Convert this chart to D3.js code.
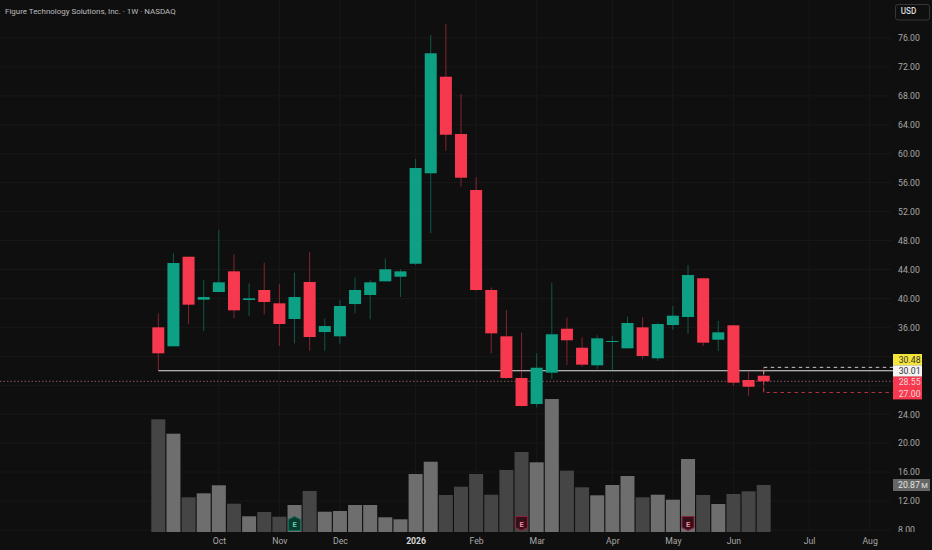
<!DOCTYPE html>
<html>
<head>
<meta charset="utf-8">
<script src="https://d3js.org/d3.v7.min.js"></script>
<style>
  html, body { margin: 0; padding: 0; background: #0f0f0f; }
  svg { display: block; }
  text { font-family: Roboto, sans-serif; }
</style>
</head>
<body>
<svg id="chart"></svg>

<script>
  var weeks = ["2025-09-08","2025-09-15","2025-09-22","2025-09-29","2025-10-06","2025-10-13","2025-10-20","2025-10-27",
    "2025-11-03","2025-11-10","2025-11-17","2025-11-24","2025-12-01","2025-12-08","2025-12-15","2025-12-22","2025-12-29",
    "2026-01-05","2026-01-12","2026-01-19","2026-01-26","2026-02-02","2026-02-09","2026-02-16","2026-02-23",
    "2026-03-02","2026-03-09","2026-03-16","2026-03-23","2026-03-30","2026-04-06","2026-04-13","2026-04-20","2026-04-27",
    "2026-05-04","2026-05-11","2026-05-18","2026-05-25","2026-06-01","2026-06-08","2026-06-15"];

  var opens = [36.01,33.39,45.77,39.83,40.89,43.75,39.79,41.17,39.33,37.16,42.28,35.36,34.77,39.23,40.48,42.37,43.01,
    44.80,57.30,70.65,62.73,54.99,41.17,34.77,29.01,25.41,29.74,35.82,33.19,30.76,33.98,33.11,36.01,31.73,
    36.33,37.44,42.79,34.30,36.29,28.73,29.32];
  var highs = [37.95,46.24,45.77,42.51,49.46,46.10,42.10,44.94,41.96,43.56,46.38,37.20,39.79,42.87,42.55,45.55,44.03,
    59.28,76.41,77.94,68.26,56.75,41.54,38.40,35.27,32.42,42.18,37.34,34.63,34.91,34.81,37.48,37.40,36.65,
    38.96,44.62,42.85,36.88,36.35,29.88,30.48];
  var lows = [30.01,33.39,36.47,35.50,40.89,37.26,37.58,37.81,33.43,33.80,32.78,32.78,33.75,37.95,37.12,42.37,40.20,
    44.62,49.01,60.42,55.45,41.00,32.42,28.90,25.04,24.96,28.83,30.80,30.57,30.29,29.88,33.11,31.59,31.36,
    35.64,35.09,33.43,32.74,27.94,26.52,27.00];
  var closes = [32.42,44.90,39.14,40.20,42.23,38.36,40.02,39.51,36.47,40.20,34.67,36.19,38.96,41.17,42.23,44.03,43.75,
    58.03,73.89,62.63,56.69,41.17,35.18,29.01,25.14,30.43,35.05,34.22,30.85,34.49,34.12,36.61,32.05,36.47,
    37.62,43.24,33.89,35.32,28.36,27.80,28.55];
  var volumes = [50.04,43.65,15.41,17.18,20.74,12.57,6.97,8.88,6.79,11.99,18.2,9.01,9.32,11.99,11.99,6.53,5.64,
    25.75,31.21,16.43,20.11,25.75,16.56,27.53,35.52,30.95,59.05,27.22,19.85,16.29,20.87,24.86,15.41,16.56,
    14.34,32.41,16.43,12.43,16.87,18.07,20.87];

  var priceTicks = [76,72,68,64,60,56,52,48,44,40,36,24,20,16,12,8];
  var gridTicks = [76,72,68,64,60,56,52,48,44,40,36,32,28,24,20,16,12,8];
  var monthTicks = ["2025-10-06","2025-11-03","2025-12-01","2026-01-05","2026-02-02","2026-03-02","2026-04-06","2026-05-04","2026-06-01","2026-07-06","2026-08-03"];
  var monthLabels = ["Oct","Nov","Dec","2026","Feb","Mar","Apr","May","Jun","Jul","Aug"];

  var earningsWeeks = ["2025-11-10","2026-02-23","2026-05-11"];
  var earningsBeat = [true,false,false];

  var title = "Figure Technology Solutions, Inc. · 1W · NASDAQ";
  var sessionHigh = 30.48, sessionLow = 27.00, lastPrice = 28.55, linePrice = 30.01, lastVolume = "20.87";

  var windowWidth = 932;
  var windowHeight = 550;
  var plotRight = 885;
  var axisLeft = 893;
  var axisRight = 922;
  var timeTop = 532;
  var candleWidth = 12;
  var volumeWidth = 14;
  var labelSize = 8.7;

  var upColor = "#0ea084";
  var downColor = "#f7394f";
  var bgColor = "#0f0f0f";
  var gridColor = "#181818";
  var textColor = "#a9a9a9";

  var parseDate = d3.utcParse("%Y-%m-%d");
  var dates = weeks.map(parseDate);

  var xscale = d3.scaleUtc()
    .domain([dates[0], dates[dates.length - 1]])
    .range([158.3, 763.7]);

  var yscale = d3.scaleLinear()
    .domain([76, 8])
    .range([38, 530]);

  var volScale = d3.scaleLinear()
    .domain([0, 20.87])
    .range([532, 485]);

  var candles = weeks.map(function(w, i) {
    return { date: dates[i], open: opens[i], high: highs[i], low: lows[i], close: closes[i], volume: volumes[i] };
  });

  function candleColor(d) { return d.close >= d.open ? upColor : downColor; }

  var svg = d3.select("#chart")
    .attr("width", windowWidth)
    .attr("height", windowHeight);

  svg.append("rect")
    .attr("width", windowWidth).attr("height", windowHeight)
    .attr("fill", bgColor);

  //grid
  svg.append("g").selectAll("line")
    .data(gridTicks)
    .enter().append("line")
    .attr("x1", 0).attr("x2", plotRight + 6)
    .attr("y1", function(d) { return yscale(d); })
    .attr("y2", function(d) { return yscale(d); })
    .attr("stroke", gridColor);

  svg.append("g").selectAll("line")
    .data(monthTicks)
    .enter().append("line")
    .attr("x1", function(d) { return xscale(parseDate(d)); })
    .attr("x2", function(d) { return xscale(parseDate(d)); })
    .attr("y1", 0).attr("y2", timeTop)
    .attr("stroke", gridColor);

  //volume
  svg.append("g").selectAll("rect")
    .data(candles)
    .enter().append("rect")
    .attr("x", function(d) { return xscale(d.date) - volumeWidth / 2; })
    .attr("y", function(d) { return volScale(d.volume); })
    .attr("width", volumeWidth)
    .attr("height", function(d) { return volScale(0) - volScale(d.volume); })
    .attr("fill", function(d) { return d.close >= d.open ? "#6e6e6e" : "#454545"; });

  //price lines
  var lastX = xscale(dates[dates.length - 1]);

  svg.append("line")
    .attr("x1", 0).attr("x2", axisLeft)
    .attr("y1", yscale(lastPrice)).attr("y2", yscale(lastPrice))
    .attr("stroke", "#8a5560").attr("stroke-width", 1)
    .attr("stroke-dasharray", "1.5,2");

  svg.append("line")
    .attr("x1", xscale(dates[0])).attr("x2", axisLeft)
    .attr("y1", yscale(linePrice)).attr("y2", yscale(linePrice))
    .attr("stroke", "#e2e2e2").attr("stroke-width", 1.2);

  svg.append("path")
    .attr("d", "M" + lastX + "," + yscale(lastPrice) + "V" + yscale(sessionHigh) + "H" + axisLeft)
    .attr("fill", "none").attr("stroke", "#c9c9c9").attr("stroke-dasharray", "3.5,3.5");

  svg.append("path")
    .attr("d", "M" + lastX + "," + yscale(lastPrice) + "V" + yscale(sessionLow) + "H" + axisLeft)
    .attr("fill", "none").attr("stroke", "#b5323f").attr("stroke-dasharray", "3.5,3.5");

  //candles
  var candleG = svg.append("g").selectAll("g")
    .data(candles)
    .enter().append("g");

  candleG.append("line")
    .attr("x1", function(d) { return xscale(d.date); })
    .attr("x2", function(d) { return xscale(d.date); })
    .attr("y1", function(d) { return yscale(d.high); })
    .attr("y2", function(d) { return yscale(d.low); })
    .attr("stroke", candleColor)
    .attr("stroke-opacity", 0.5);

  candleG.append("rect")
    .attr("x", function(d) { return xscale(d.date) - candleWidth / 2; })
    .attr("y", function(d) { return yscale(Math.max(d.open, d.close)); })
    .attr("width", candleWidth)
    .attr("height", function(d) { return Math.max(1, Math.abs(yscale(d.open) - yscale(d.close))); })
    .attr("fill", candleColor);

  //earnings badges
  var badges = svg.append("g").selectAll("g")
    .data(earningsWeeks)
    .enter().append("g")
    .attr("transform", function(d) { return "translate(" + xscale(parseDate(d)) + ",523.5)"; });

  badges.append("path")
    .attr("d", function(d, i) {
      return earningsBeat[i] ? "M0,-7L6,-4V7H-6V-4Z" : "M-6,-7H6V4L0,7L-6,4Z";
    })
    .attr("fill", function(d, i) { return earningsBeat[i] ? "#0b3a30" : "#35101a"; })
    .attr("stroke", function(d, i) { return earningsBeat[i] ? "#0c6f58" : "#8f2238"; })
    .attr("stroke-width", 1);

  badges.append("text")
    .attr("text-anchor", "middle")
    .attr("y", 3)
    .attr("font-size", 7.5)
    .attr("font-weight", 700)
    .attr("fill", function(d, i) { return earningsBeat[i] ? "#5fd0b0" : "#f08a9c"; })
    .text("E");

  //price axis
  svg.append("clipPath").attr("id", "axisClip")
    .append("rect")
    .attr("x", -4).attr("y", 0)
    .attr("width", 40).attr("height", timeTop);

  var priceAxis = d3.axisRight(yscale)
    .tickValues(priceTicks)
    .tickSize(0)
    .tickPadding(0)
    .tickFormat(d3.format(".2f"));

  var priceG = svg.append("g")
    .attr("transform", "translate(898,0)")
    .attr("clip-path", "url(#axisClip)")
    .call(priceAxis);

  priceG.select(".domain").remove();
  priceG.selectAll("text")
    .attr("font-family", "Roboto, sans-serif")
    .attr("font-size", labelSize)
    .attr("fill", textColor);

  //time axis
  var timeAxis = d3.axisBottom(xscale)
    .tickValues(monthTicks.map(parseDate))
    .tickSize(0)
    .tickPadding(0)
    .tickFormat(function(d, i) { return monthLabels[i]; });

  var timeG = svg.append("g")
    .attr("transform", "translate(0,537.5)")
    .call(timeAxis);

  timeG.select(".domain").remove();
  timeG.selectAll("text")
    .attr("font-family", "Roboto, sans-serif")
    .attr("font-size", labelSize)
    .attr("fill", function(d, i) { return monthLabels[i] == "2026" ? "#d8d8d8" : textColor; })
    .attr("font-weight", function(d, i) { return monthLabels[i] == "2026" ? 700 : 400; });

  //price labels on the axis
  var tagValues = [sessionHigh, linePrice, lastPrice, sessionLow];
  var tagFill = ["#f4e53a", "#f4f4f4", "#f7394f", "#f7394f"];
  var tagText = ["#333333", "#333333", "#f6d6da", "#f6d6da"];
  var tagHeight = 11.3;
  var tagTop = 354;

  var tags = svg.append("g").selectAll("g")
    .data(tagValues)
    .enter().append("g")
    .attr("transform", function(d, i) { return "translate(" + axisLeft + "," + (tagTop + i * tagHeight) + ")"; });

  tags.append("rect")
    .attr("width", axisRight - axisLeft)
    .attr("height", tagHeight + 0.2)
    .attr("fill", function(d, i) { return tagFill[i]; });

  tags.append("text")
    .attr("x", 5.7)
    .attr("y", tagHeight - 2.4)
    .attr("font-size", labelSize)
    .attr("fill", function(d, i) { return tagText[i]; })
    .text(function(d) { return d3.format(".2f")(d); });

  //volume tag
  svg.append("rect")
    .attr("x", axisLeft).attr("y", 479)
    .attr("width", 37).attr("height", 12)
    .attr("fill", "#666666");

  var volText = svg.append("text")
    .attr("x", axisLeft + 5).attr("y", 488.2)
    .attr("font-size", labelSize)
    .attr("fill", "#e4e4e4");
  volText.append("tspan").text(lastVolume);
  volText.append("tspan").attr("dx", 1.5).attr("font-size", 7.5).text("M");

  //USD button
  svg.append("rect")
    .attr("x", 895.5).attr("y", 4.5)
    .attr("width", 34).attr("height", 15.5)
    .attr("rx", 2.5)
    .attr("fill", "#0f0f0f")
    .attr("stroke", "#363636");

  svg.append("text")
    .attr("x", 908.5).attr("y", 14)
    .attr("text-anchor", "middle")
    .attr("font-size", 8.2)
    .attr("font-weight", 500)
    .attr("fill", "#dcdcdc")
    .text("USD");

  //title
  svg.append("text")
    .attr("x", 5).attr("y", 13.5)
    .attr("font-size", 7.95)
    .attr("fill", "#bdbdbd")
    .text(title);
</script>
</body>
</html>
